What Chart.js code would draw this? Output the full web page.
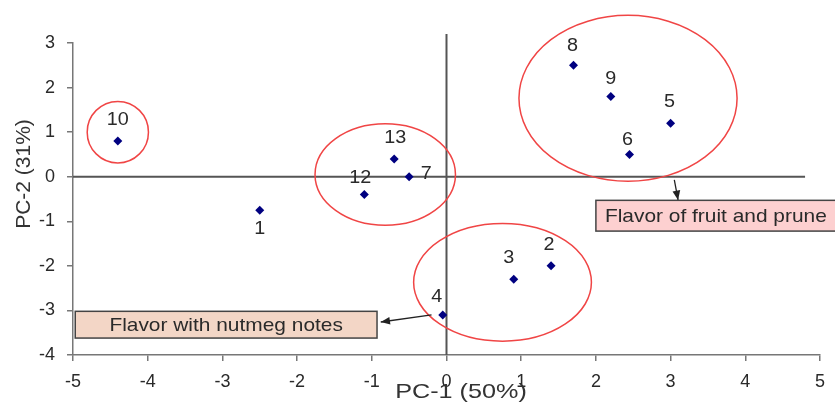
<!DOCTYPE html>
<html>
<head>
<meta charset="utf-8">
<script src="https://cdn.jsdelivr.net/npm/chart.js@4.4.1/dist/chart.umd.min.js"></script>
<style>
    html, body { margin: 0; padding: 0; background: #fff; }
    #wrap { width: 835px; height: 405px; }
</style>
</head>
<body>
<div id="wrap"><canvas id="pcaChart" width="835" height="405"></canvas></div>
<script>
// Sample scores on the two principal components
const sampleLabels = ['1', '2', '3', '4', '5', '6', '7', '8', '9', '10', '12', '13'];
const pc1Values = [-2.5, 1.4, 0.9, -0.05, 3.0, 2.45, -0.5, 1.7, 2.2, -4.4, -1.1, -0.7];
const pc2Values = [-0.75, -2.0, -2.3, -3.1, 1.2, 0.5, 0.0, 2.5, 1.8, 0.8, -0.4, 0.4];

// Axis ranges / ticks
const xTicks = [-5, -4, -3, -2, -1, 0, 1, 2, 3, 4, 5];
const yTicks = [-4, -3, -2, -1, 0, 1, 2, 3];

// Group ellipses in data units: center x, center y, radius x, radius y
const groupCx = [-4.4, -0.82, 2.43, 0.75];
const groupCy = [1.0, 0.05, 1.76, -2.37];
const groupRx = [0.41, 0.94, 1.46, 1.19];
const groupRy = [0.69, 1.14, 1.86, 1.32];

// Callout texts
const calloutTexts = ['Flavor with nutmeg notes', 'Flavor of fruit and prune'];

const FONT = "'Liberation Sans', Arial, sans-serif";

// where each number label sits relative to its marker (px)
const labelOffsets = {
    '1': [0, 19], '2': [-2, -21], '3': [-5, -21], '4': [-6, -18], '5': [-1, -21],
    '6': [-2, -14], '7': [17, -3], '8': [-1, -19], '9': [0, -17], '10': [0, -21],
    '12': [-4, -17], '13': [1, -21]
};

const points = pc1Values.map((x, i) => ({ x: x, y: pc2Values[i] }));

// the source picture is a bit stretched sideways, so text is widened a little
function wideText(ctx, text, x, y, size, stretch, align) {
    ctx.save();
    ctx.font = size + 'px ' + FONT;
    ctx.textBaseline = 'middle';
    ctx.textAlign = 'left';
    const w = ctx.measureText(text).width * stretch;
    let left = x;
    if (align === 'center') left = x - w / 2;
    ctx.translate(left, y);
    ctx.scale(stretch, 1);
    ctx.fillText(text, 0, 0);
    ctx.restore();
}

// Extra drawing: ellipses, labels, callouts, axis titles
const overlayPlugin = {
    id: 'overlay',
    afterDatasetsDraw(chart) {
        const { ctx, scales: { x, y } } = chart;
        ctx.save();

        // red ellipses around the groups
        ctx.strokeStyle = '#f04545';
        ctx.lineWidth = 1.5;
        groupCx.forEach((cx, i) => {
            const px = x.getPixelForValue(cx);
            const py = y.getPixelForValue(groupCy[i]);
            const rx = Math.abs(x.getPixelForValue(cx + groupRx[i]) - px);
            const ry = Math.abs(y.getPixelForValue(groupCy[i] + groupRy[i]) - py);
            ctx.beginPath();
            ctx.ellipse(px, py, rx, ry, 0, 0, Math.PI * 2);
            ctx.stroke();
        });

        // number labels
        ctx.fillStyle = '#2a2a2a';
        const meta = chart.getDatasetMeta(0);
        meta.data.forEach((el, i) => {
            const off = labelOffsets[sampleLabels[i]];
            wideText(ctx, sampleLabels[i], el.x + off[0], el.y + off[1], 18, 1.1, 'center');
        });

        // callout boxes
        const boxes = [
            { x0: -4.97, y0: -3.02, x1: -0.93, y1: -3.62, fill: '#f3d6c6', text: calloutTexts[0] },
            { x0: 2.0, y0: -0.53, x1: 5.3, y1: -1.22, fill: '#fdd0d0', text: calloutTexts[1] }
        ];
        boxes.forEach(b => {
            const l = x.getPixelForValue(b.x0), r = x.getPixelForValue(b.x1);
            const t = y.getPixelForValue(b.y0), btm = y.getPixelForValue(b.y1);
            ctx.fillStyle = b.fill;
            ctx.fillRect(l, t, r - l, btm - t);
            ctx.strokeStyle = '#444';
            ctx.lineWidth = 1.5;
            ctx.strokeRect(l, t, r - l, btm - t);
            ctx.fillStyle = '#2a2a2a';
            if (b.x1 > 5) {
                wideText(ctx, b.text, l + 9, (t + btm) / 2 + 1, 19, 1.1, 'left');
            } else {
                wideText(ctx, b.text, (l + r) / 2, (t + btm) / 2 + 1, 19, 1.1, 'center');
            }
        });

        // arrows
        const arrows = [
            [-0.2, -3.1, -0.88, -3.26],
            [3.05, -0.07, 3.1, -0.52]
        ];
        ctx.strokeStyle = '#222';
        ctx.fillStyle = '#222';
        ctx.lineWidth = 1.3;
        arrows.forEach(a => {
            const sx = x.getPixelForValue(a[0]), sy = y.getPixelForValue(a[1]);
            const ex = x.getPixelForValue(a[2]), ey = y.getPixelForValue(a[3]);
            const ang = Math.atan2(ey - sy, ex - sx);
            ctx.beginPath();
            ctx.moveTo(sx, sy);
            ctx.lineTo(ex, ey);
            ctx.stroke();
            ctx.beginPath();
            ctx.moveTo(ex, ey);
            ctx.lineTo(ex - 10 * Math.cos(ang - 0.4), ey - 10 * Math.sin(ang - 0.4));
            ctx.lineTo(ex - 10 * Math.cos(ang + 0.4), ey - 10 * Math.sin(ang + 0.4));
            ctx.closePath();
            ctx.fill();
        });

        // axis titles
        ctx.fillStyle = '#333';
        wideText(ctx, 'PC-1 (50%)', 461, 392, 21, 1.2, 'center');
        ctx.translate(24, 174);
        ctx.rotate(-Math.PI / 2);
        wideText(ctx, 'PC-2 (31%)', 0, 0, 21, 1.0, 'center');
        ctx.restore();
    }
};

new Chart(document.getElementById('pcaChart'), {
    type: 'scatter',
    data: {
        datasets: [
            {
                label: 'Samples',
                data: points,
                pointStyle: 'rectRot',
                pointRadius: 4.5,
                pointHoverRadius: 4.5,
                backgroundColor: '#000080',
                borderColor: '#000080',
                borderWidth: 0,
                order: 0
            },
            {
                label: 'zero-x',
                type: 'line',
                data: [{ x: -5, y: 0 }, { x: 4.8, y: 0 }],
                borderColor: '#555',
                borderWidth: 2,
                pointRadius: 0,
                clip: false,
                order: 2
            },
            {
                label: 'zero-y',
                type: 'line',
                data: [{ x: 0, y: -4 }, { x: 0, y: 3.2 }],
                borderColor: '#555',
                borderWidth: 2,
                pointRadius: 0,
                clip: false,
                order: 2
            }
        ]
    },
    options: {
        responsive: false,
        animation: false,
        events: [],
        layout: { padding: { top: 43, right: 13, left: 0, bottom: 0 } },
        plugins: {
            legend: { display: false },
            tooltip: { enabled: false }
        },
        scales: {
            x: {
                type: 'linear',
                min: -5,
                max: 5,
                afterBuildTicks: scale => { scale.ticks = xTicks.map(v => ({ value: v })); },
                afterFit: scale => { scale.height = 50; },
                ticks: {
                    color: '#2a2a2a',
                    font: { family: FONT, size: 18 },
                    padding: 10,
                    maxRotation: 0
                },
                grid: { drawOnChartArea: false, drawTicks: true, tickLength: 6, color: '#777', lineWidth: 1.5 },
                border: { display: true, color: '#777', width: 1.5 }
            },
            y: {
                type: 'linear',
                min: -4,
                max: 3,
                afterBuildTicks: scale => { scale.ticks = yTicks.map(v => ({ value: v })); },
                afterFit: scale => { scale.width = 73; },
                ticks: {
                    color: '#2a2a2a',
                    font: { family: FONT, size: 18 },
                    padding: 12
                },
                grid: { drawOnChartArea: false, drawTicks: true, tickLength: 6, color: '#777', lineWidth: 1.5 },
                border: { display: true, color: '#777', width: 1.5 }
            }
        }
    },
    plugins: [overlayPlugin]
});
</script>
</body>
</html>
